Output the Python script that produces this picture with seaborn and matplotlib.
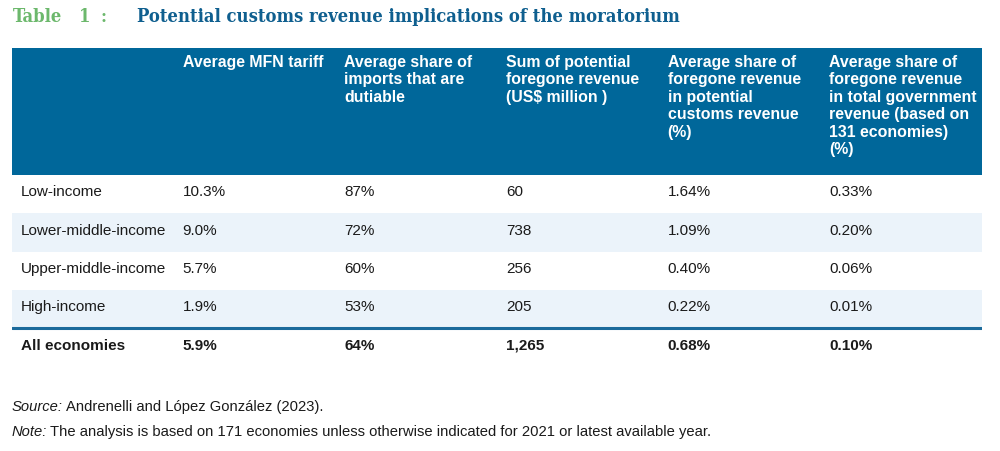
import numpy as np
import pandas as pd
import matplotlib.pyplot as plt
from matplotlib.colors import ListedColormap
from matplotlib.patches import Rectangle
import seaborn as sns

# table contents
groups = ['Low-income', 'Lower-middle-income', 'Upper-middle-income',
          'High-income', 'All economies']
mfn_tariff = [10.3, 9.0, 5.7, 1.9, 5.9]
dutiable_share = [87, 72, 60, 53, 64]
foregone_revenue = [60, 738, 256, 205, 1265]
share_customs = [1.64, 1.09, 0.40, 0.22, 0.68]
share_govt = [0.33, 0.20, 0.06, 0.01, 0.10]

headers = ['',
           'Average MFN tariff',
           'Average share of\nimports that are\ndutiable',
           'Sum of potential\nforegone revenue\n(US$ million )',
           'Average share of\nforegone revenue\nin potential\ncustoms revenue\n(%)',
           'Average share of\nforegone revenue\nin total government\nrevenue (based on\n131 economies)\n(%)']

title_label = ['Table', '1', ':']
title_text = 'Potential customs revenue implications of the moratorium'
source_note = 'Andrenelli and López González (2023).'
note_text = 'The analysis is based on 171 economies unless otherwise indicated for 2021 or latest available year.'

df = pd.DataFrame({
    'group': groups,
    'mfn': [f'{v:.1f}%' for v in mfn_tariff],
    'dutiable': [f'{v:.0f}%' for v in dutiable_share],
    'foregone': [f'{v:,}' for v in foregone_revenue],
    'customs': [f'{v:.2f}%' for v in share_customs],
    'govt': [f'{v:.2f}%' for v in share_govt],
})

sns.set_theme(style='white')
plt.rcParams['font.family'] = ['Liberation Sans', 'DejaVu Sans']

BLUE = '#00679a'
STRIPE = '#ebf3fa'
TXT = '#1a1a1a'

W, H = 1000, 451
fig = plt.figure(figsize=(10, 4.51), dpi=100)

# canvas in pixel units for title, header band and notes
canvas = fig.add_axes([0, 0, 1, 1])
canvas.set_xlim(0, W)
canvas.set_ylim(H, 0)
canvas.axis('off')

left, right = 12, 982
head_top, body_top = 48, 175
row_h = 38.3
n_rows = len(groups)
col_w = (right - left) / len(headers)

# title
tfont = dict(family=['DejaVu Serif Condensed', 'DejaVu Serif'], fontstretch='condensed',
             fontweight='bold', fontsize=13.2, va='center')
for s, x in zip(title_label, [13, 79, 100]):
    canvas.text(x, 17, s, color='#6cb86c', **tfont)
canvas.text(137, 17, title_text, color='#0f5f8f', **tfont)

# header band
canvas.add_patch(Rectangle((left, head_top), right - left, body_top - head_top,
                           color=BLUE, lw=0))
for j, h in enumerate(headers):
    canvas.text(left + j * col_w + 9, 55, h, color='white', fontsize=11.4,
                fontweight='bold', va='top', ha='left', linespacing=1.2)

# body as a striped heatmap
stripes = np.array([[i % 2] * len(headers) for i in range(n_rows)])
stripes[-1] = 0
body_ax = fig.add_axes([left / W, 1 - (body_top + n_rows * row_h) / H,
                        (right - left) / W, n_rows * row_h / H])
sns.heatmap(stripes, ax=body_ax, cmap=ListedColormap(['white', STRIPE]),
            cbar=False, xticklabels=False, yticklabels=False, vmin=0, vmax=1)
body_ax.axhline(n_rows - 1, color='#1b6a9b', lw=2.2)

for i, row in enumerate(df.itertuples(index=False)):
    bold = i == n_rows - 1
    for j, val in enumerate(row):
        body_ax.text(j + 9 / col_w, i + 0.56, val, ha='left', va='baseline',
                     fontsize=11.0, color=TXT,
                     fontweight='bold' if bold else 'normal')

# source and note: italic lead-in, rest placed right after it
renderer = fig.canvas.get_renderer()
nfont = dict(fontsize=10.6, color=TXT, va='baseline')
for y, lead, rest in [(411, 'Source:', source_note), (436, 'Note:', note_text)]:
    t = canvas.text(12, y, lead, style='italic', **nfont)
    bb = t.get_window_extent(renderer)
    canvas.text(bb.x1 + 3, y, rest, **nfont)

fig.savefig('out.png', dpi=100)
